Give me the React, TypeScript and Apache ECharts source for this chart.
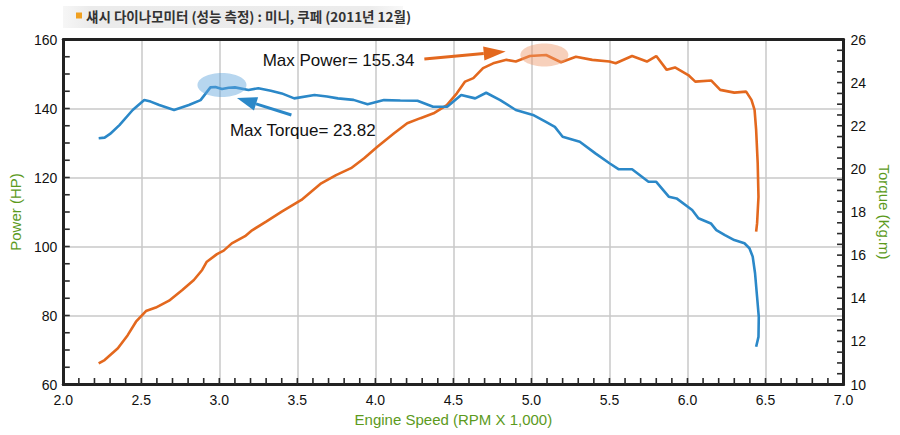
import React, { useEffect, useRef } from "react";
import * as echarts from "echarts";

const torqueRpm = [2.227, 2.265, 2.30, 2.36, 2.445, 2.519, 2.56, 2.615, 2.71, 2.805, 2.88, 2.943, 2.975, 3.017, 3.06, 3.10, 3.187, 3.25, 3.33, 3.40, 3.48, 3.61, 3.69, 3.76, 3.86, 3.95, 4.055, 4.16, 4.27, 4.37, 4.46, 4.55, 4.64, 4.71, 4.80, 4.90, 5.01, 5.09, 5.15, 5.20, 5.31, 5.41, 5.50, 5.56, 5.645, 5.75, 5.80, 5.88, 5.93, 6.03, 6.07, 6.15, 6.185, 6.24, 6.30, 6.365, 6.397, 6.418, 6.433, 6.446, 6.457, 6.455, 6.44];
const torqueVal = [21.42, 21.45, 21.62, 22.03, 22.73, 23.19, 23.12, 22.96, 22.73, 22.96, 23.19, 23.78, 23.8, 23.7, 23.76, 23.78, 23.66, 23.74, 23.62, 23.5, 23.27, 23.43, 23.36, 23.27, 23.2, 23.0, 23.19, 23.17, 23.16, 22.88, 22.88, 23.43, 23.27, 23.53, 23.19, 22.73, 22.5, 22.19, 21.95, 21.49, 21.26, 20.72, 20.26, 19.98, 19.98, 19.4, 19.4, 18.71, 18.63, 18.09, 17.71, 17.47, 17.16, 16.93, 16.7, 16.55, 16.32, 15.93, 15.16, 14.07, 13.14, 12.21, 11.75];

const powerRpm = [2.227, 2.265, 2.35, 2.413, 2.466, 2.53, 2.593, 2.678, 2.763, 2.837, 2.89, 2.92, 2.985, 3.028, 3.08, 3.165, 3.21, 3.30, 3.40, 3.526, 3.653, 3.748, 3.844, 3.928, 4.013, 4.12, 4.204, 4.289, 4.373, 4.458, 4.522, 4.575, 4.628, 4.69, 4.755, 4.84, 4.90, 4.99, 5.094, 5.19, 5.285, 5.39, 5.50, 5.54, 5.645, 5.74, 5.80, 5.867, 5.92, 6.005, 6.05, 6.153, 6.21, 6.30, 6.376, 6.41, 6.43, 6.44, 6.45, 6.455, 6.446, 6.44];
const powerVal = [66.1, 67.1, 70.5, 74.3, 78.2, 81.3, 82.3, 84.3, 87.4, 90.3, 93.2, 95.6, 97.8, 98.8, 100.9, 103.0, 104.7, 107.2, 110.1, 113.5, 118.3, 120.7, 122.7, 125.6, 128.9, 132.8, 135.7, 137.2, 138.6, 141.0, 144.4, 147.8, 148.8, 151.7, 153.1, 154.1, 153.6, 155.2, 155.5, 153.4, 155.0, 154.1, 153.6, 153.1, 155.2, 153.6, 155.2, 151.2, 151.9, 149.7, 147.8, 148.1, 145.4, 144.6, 144.9, 142.5, 139.6, 133.8, 124.1, 114.4, 106.7, 104.3];

const titleText = "섀시 다이나모미터 (성능 측정) : 미니, 쿠페 (2011년 12월)";
const xAxisName = "Engine Speed (RPM X 1,000)";
const leftAxisName = "Power (HP)";
const rightAxisName = "Torque (Kg.m)";

// axis ranges and tick steps
const xRange = [2, 7];
const xMinorStep = 0.1;
const leftRange = [60, 160];
const leftMinorStep = 5;
const rightRange = [10, 26];
const rightMinorStep = 0.5;

// annotations: [rpm, value] in data space
const maxPowerLabel = "Max Power= 155.34";
const maxPowerEllipse = [5.083, 155.5];
const maxPowerArrowFrom = [4.314, 154.35];
const maxPowerArrowTo = [4.835, 156.5];
const maxPowerTextAt = [3.278, 153.8];

const maxTorqueLabel = "Max Torque= 23.82";
const maxTorqueEllipse = [3.017, 23.89];
const maxTorqueArrowFrom = [3.462, 22.5];
const maxTorqueArrowTo = [3.113, 23.29];
const maxTorqueTextAt = [3.068, 21.76];

const ORANGE = "#e3681e";
const BLUE = "#2b88c8";
const GREEN = "#5c9a1c";
const TICK_COLOR = "#2a2a2a";
const FONT = "'Liberation Sans', Arial, sans-serif";

function steps(range: number[], step: number) {
  const out: number[] = [];
  const n = Math.round((range[1] - range[0]) / step);
  for (let i = 1; i < n; i++) out.push(+(range[0] + i * step).toFixed(3));
  return out;
}

function arrow(from: number[], to: number[], color: string, headLen: number, headHalf: number, width: number) {
  const dx = to[0] - from[0];
  const dy = to[1] - from[1];
  const len = Math.sqrt(dx * dx + dy * dy);
  const ux = dx / len, uy = dy / len;
  const bx = to[0] - ux * headLen, by = to[1] - uy * headLen;
  const nx = -uy, ny = ux;
  return [
    { type: "line", z: 100, shape: { x1: from[0], y1: from[1], x2: bx, y2: by }, style: { stroke: color, lineWidth: width } },
    {
      type: "polygon", z: 100,
      shape: { points: [[to[0], to[1]], [bx + nx * headHalf, by + ny * headHalf], [bx - nx * headHalf, by - ny * headHalf]] },
      style: { fill: color },
    },
  ];
}

function tickSeries(axis: "x" | "left" | "right") {
  const TL = 6.5;
  const values = axis === "x" ? steps(xRange, xMinorStep) : axis === "left" ? steps(leftRange, leftMinorStep) : steps(rightRange, rightMinorStep);
  return {
    type: "custom",
    silent: true,
    clip: false,
    z: 20,
    xAxisIndex: 0,
    yAxisIndex: axis === "right" ? 1 : 0,
    data: values.map((v) => [v]),
    renderItem: (_params: any, api: any) => {
      const v = api.value(0);
      let p: number[], q: number[];
      if (axis === "x") {
        p = api.coord([v, leftRange[0]]);
        q = [p[0], p[1] - TL];
      } else if (axis === "left") {
        p = api.coord([xRange[0], v]);
        q = [p[0] + TL, p[1]];
      } else {
        p = api.coord([xRange[1], v]);
        q = [p[0] - TL, p[1]];
      }
      return {
        type: "line",
        shape: { x1: p[0], y1: p[1], x2: q[0], y2: q[1] },
        style: { stroke: TICK_COLOR, lineWidth: 1.6 },
      };
    },
    encode: { x: 0, y: -1 },
  };
}

export default function App() {
  const ref = useRef<HTMLDivElement>(null);
  useEffect(() => {
    document.body.style.margin = "0";
    const chart = echarts.init(ref.current!, null, { renderer: "svg" });
    chart.setOption({
      animation: false,
      backgroundColor: "#fff",
      textStyle: { fontFamily: FONT },
      grid: { left: 60, right: 54, top: 39.5, bottom: 50.5 },
      xAxis: [
        {
          type: "value", min: xRange[0], max: xRange[1], interval: 0.5, position: "bottom",
          name: xAxisName, nameLocation: "middle", nameGap: 27,
          nameTextStyle: { color: GREEN, fontSize: 15, fontFamily: FONT },
          axisLine: { show: true, lineStyle: { color: "#222", width: 3 } },
          axisTick: { show: false },
          axisLabel: { color: "#111", fontSize: 14, margin: 8, formatter: (v: number) => v.toFixed(1) },
          splitLine: { show: true, lineStyle: { color: "#c8c8c8", width: 1.5 } },
        },
        {
          type: "value", min: xRange[0], max: xRange[1], interval: 0.5, position: "top",
          axisLine: { show: true, onZero: false, lineStyle: { color: "#222", width: 3 } },
          axisTick: { show: false },
          axisLabel: { show: false },
          splitLine: { show: false },
        },
      ],
      yAxis: [
        {
          type: "value", min: leftRange[0], max: leftRange[1], interval: 20, position: "left",
          name: leftAxisName, nameLocation: "middle", nameGap: 28, nameRotate: 90,
          nameTextStyle: { color: GREEN, fontSize: 15, fontFamily: FONT },
          axisLine: { show: true, lineStyle: { color: "#222", width: 3 } },
          axisTick: { show: false },
          axisLabel: { color: "#111", fontSize: 14, margin: 6 },
          splitLine: { show: true, lineStyle: { color: "#c8c8c8", width: 1.5 } },
        },
        {
          type: "value", min: rightRange[0], max: rightRange[1], interval: 2, position: "right",
          name: rightAxisName, nameLocation: "middle", nameGap: 25, nameRotate: -90,
          nameTextStyle: { color: GREEN, fontSize: 15, fontFamily: FONT },
          axisLine: { show: true, lineStyle: { color: "#222", width: 3 } },
          axisTick: { show: false },
          axisLabel: { color: "#111", fontSize: 14, margin: 7 },
          splitLine: { show: false },
        },
      ],
      series: [
        {
          type: "line", name: "Power", yAxisIndex: 0, showSymbol: false, symbol: "none",
          lineStyle: { color: ORANGE, width: 2.6 }, z: 3,
          data: powerRpm.map((r, i) => [r, powerVal[i]]),
        },
        {
          type: "line", name: "Torque", yAxisIndex: 1, showSymbol: false, symbol: "none",
          lineStyle: { color: BLUE, width: 2.6 }, z: 4,
          data: torqueRpm.map((r, i) => [r, torqueVal[i]]),
        },
        tickSeries("x"),
        tickSeries("left"),
        tickSeries("right"),
      ],
    });

    const pL = (p: number[]) => chart.convertToPixel({ xAxisIndex: 0, yAxisIndex: 0 }, p) as number[];
    const pR = (p: number[]) => chart.convertToPixel({ xAxisIndex: 0, yAxisIndex: 1 }, p) as number[];

    const pe = pL(maxPowerEllipse);
    const te = pR(maxTorqueEllipse);
    const pt = pL(maxPowerTextAt);
    const tt = pR(maxTorqueTextAt);

    chart.setOption({
      graphic: [
        {
          type: "rect", z: 1, shape: { x: 63, y: 6, width: 340, height: 22 },
          style: {
            fill: new echarts.graphic.LinearGradient(0, 0, 1, 0, [
              { offset: 0, color: "#f6f6f6" },
              { offset: 0.08, color: "#ebebeb" },
              { offset: 0.9, color: "#ececec" },
              { offset: 1, color: "#f8f8f8" },
            ]),
          },
        },
        { type: "rect", z: 2, shape: { x: 76, y: 12.5, width: 6, height: 6 }, style: { fill: "#f0a020" } },
        {
          type: "text", z: 2, x: 86, y: 16,
          style: { text: titleText, fill: "#333", font: "bold 13.5px 'Noto Sans CJK KR', sans-serif", verticalAlign: "middle" },
        },
        { type: "ellipse", z: 50, shape: { cx: pe[0], cy: pe[1], rx: 24, ry: 11.5 }, style: { fill: "rgba(238,150,105,0.45)" } },
        { type: "ellipse", z: 50, shape: { cx: te[0], cy: te[1], rx: 24.5, ry: 12 }, style: { fill: "rgba(95,165,220,0.45)" } },
        ...arrow(pL(maxPowerArrowFrom), pL(maxPowerArrowTo), ORANGE, 22, 7, 3),
        ...arrow(pR(maxTorqueArrowFrom), pR(maxTorqueArrowTo), BLUE, 20, 7, 3),
        {
          type: "text", z: 100, x: pt[0], y: pt[1],
          style: { text: maxPowerLabel, fill: "#111", font: `17px ${FONT}`, verticalAlign: "middle" },
        },
        {
          type: "text", z: 100, x: tt[0], y: tt[1],
          style: { text: maxTorqueLabel, fill: "#111", font: `17px ${FONT}`, verticalAlign: "middle" },
        },
      ],
    });
    return () => chart.dispose();
  }, []);
  return <div ref={ref} style={{ width: 900, height: 435 }} />;
}
